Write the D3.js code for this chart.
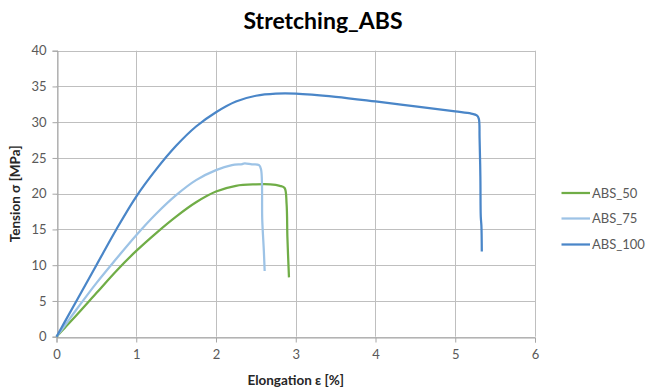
<!DOCTYPE html>
<html><head><meta charset="utf-8">
<script src="https://cdn.jsdelivr.net/npm/d3@7"></script>
<style>
body{margin:0;background:#fff;}
svg{display:block;font-family:Lato,"Open Sans",sans-serif;}
</style></head>
<body><svg id="c" width="648" height="391"></svg>
<script>
const seriesNames = ["ABS_50", "ABS_75", "ABS_100"];
const seriesColors = ["#70ad47", "#9dc3e6", "#4a86c8"];

const abs50X = [0, 0.1, 0.25, 0.5, 0.75, 1.0, 1.25, 1.5, 1.75, 2.0, 2.25, 2.5, 2.68, 2.8, 2.86, 2.885, 2.895, 2.905, 2.915];
const abs50Y = [0, 1.2, 3.0, 6.1, 9.2, 12.0, 14.5, 16.8, 18.8, 20.3, 21.1, 21.3, 21.3, 21.1, 20.8, 18.6, 14.0, 11.0, 8.3];

const abs75X = [0, 0.1, 0.25, 0.5, 0.75, 1.0, 1.25, 1.5, 1.75, 2.0, 2.2, 2.33, 2.36, 2.45, 2.54, 2.565, 2.58, 2.6, 2.61];
const abs75Y = [0, 1.5, 3.8, 7.5, 10.9, 14.2, 17.2, 19.8, 21.9, 23.3, 24.0, 24.15, 24.25, 24.1, 24.0, 23.4, 16.3, 12.0, 9.2];

const abs100X = [0, 0.1, 0.25, 0.5, 0.75, 1.0, 1.25, 1.5, 1.75, 2.0, 2.25, 2.5, 2.75, 3.0, 3.5, 4.0, 4.5, 5.0, 5.2, 5.27, 5.295, 5.305, 5.315, 5.32, 5.328, 5.333];
const abs100Y = [0, 2.0, 5.0, 10.0, 15.0, 19.6, 23.4, 26.7, 29.4, 31.4, 32.9, 33.7, 34.0, 34.0, 33.55, 32.9, 32.2, 31.5, 31.2, 30.95, 30.5, 27.8, 22.4, 16.8, 15.5, 11.9];

const xTicks = [0, 1, 2, 3, 4, 5, 6];
const yTicks = [0, 5, 10, 15, 20, 25, 30, 35, 40];

const titleText = "Stretching_ABS";
const xTitle = "Elongation ε [%]";
const yTitle = "Tension σ [MPa]";

const seriesData = [
  abs50X.map((x, i) => [x, abs50Y[i]]),
  abs75X.map((x, i) => [x, abs75Y[i]]),
  abs100X.map((x, i) => [x, abs100Y[i]])
];

const svg = d3.select("#c");
const L = 56.5, R = 535, T = 50.7, B = 336.7;
const x = d3.scaleLinear().domain([0, 6]).range([L, R]);
const y = d3.scaleLinear().domain([0, 40]).range([B, T]);

const grid = "#bfbfbf";
const g = svg.append("g");
g.selectAll(".hg").data(yTicks).join("line")
  .attr("x1", L).attr("x2", R).attr("y1", d => Math.round(y(d)) + 0.5).attr("y2", d => Math.round(y(d)) + 0.5)
  .attr("stroke", grid).attr("stroke-width", 1);
g.selectAll(".vg").data(xTicks).join("line")
  .attr("y1", T).attr("y2", B).attr("x1", d => Math.round(x(d)) + 0.5).attr("x2", d => Math.round(x(d)) + 0.5)
  .attr("stroke", grid).attr("stroke-width", 1);

const xAxis = d3.axisBottom(x).tickValues(xTicks).tickSize(5).tickPadding(4).tickFormat(d3.format("d"));
const yAxis = d3.axisLeft(y).tickValues(yTicks).tickSize(5).tickPadding(5).tickFormat(d3.format("d"));
const gx = svg.append("g").attr("transform", `translate(0,${Math.round(B) + 0.5})`).call(xAxis);
const gy = svg.append("g").attr("transform", `translate(${Math.round(L) + 0.5},0)`).call(yAxis);
[gx, gy].forEach(a => {
  a.select(".domain").attr("stroke", "#a6a6a6");
  a.selectAll(".tick line").attr("stroke", "#a6a6a6");
  a.selectAll("text").attr("fill", "#595959").style("font-size", "13px").style("font-family", "Lato, sans-serif");
});
gx.selectAll(".tick text").attr("dy", "0.95em");
gy.selectAll(".tick text").attr("dx", "-1px");

const lineGen = d3.line().x(d => x(d[0])).y(d => y(d[1])).curve(d3.curveCatmullRom.alpha(0.5));
seriesData.forEach((s, i) => {
  svg.append("path").datum(s)
    .attr("d", lineGen)
    .attr("fill", "none").attr("stroke", seriesColors[i]).attr("stroke-width", 2.25)
    .attr("stroke-linejoin", "round");
});

svg.append("text").attr("x", 323).attr("y", 29).attr("text-anchor", "middle")
  .style("font-size", "23px").style("font-weight", "bold").attr("fill", "#000").text(titleText);
svg.append("text").attr("x", (L + R) / 2).attr("y", 385).attr("text-anchor", "middle")
  .style("font-size", "13.5px").style("font-weight", "bold").attr("fill", "#262626").text(xTitle);
svg.append("text").attr("transform", `translate(20,${(T + B) / 2}) rotate(-90)`).attr("text-anchor", "middle")
  .style("font-size", "13.5px").style("font-weight", "bold").attr("fill", "#262626").text(yTitle);

const legY = [193, 218.5, 244.5];
const leg = svg.append("g");
seriesNames.forEach((n, i) => {
  leg.append("line").attr("x1", 561.5).attr("x2", 590).attr("y1", legY[i]).attr("y2", legY[i])
    .attr("stroke", seriesColors[i]).attr("stroke-width", 2.25);
  leg.append("text").attr("x", 592).attr("y", legY[i]).attr("dy", "0.35em")
    .style("font-size", "13px").attr("fill", "#595959").text(n);
});
</script></body></html>
